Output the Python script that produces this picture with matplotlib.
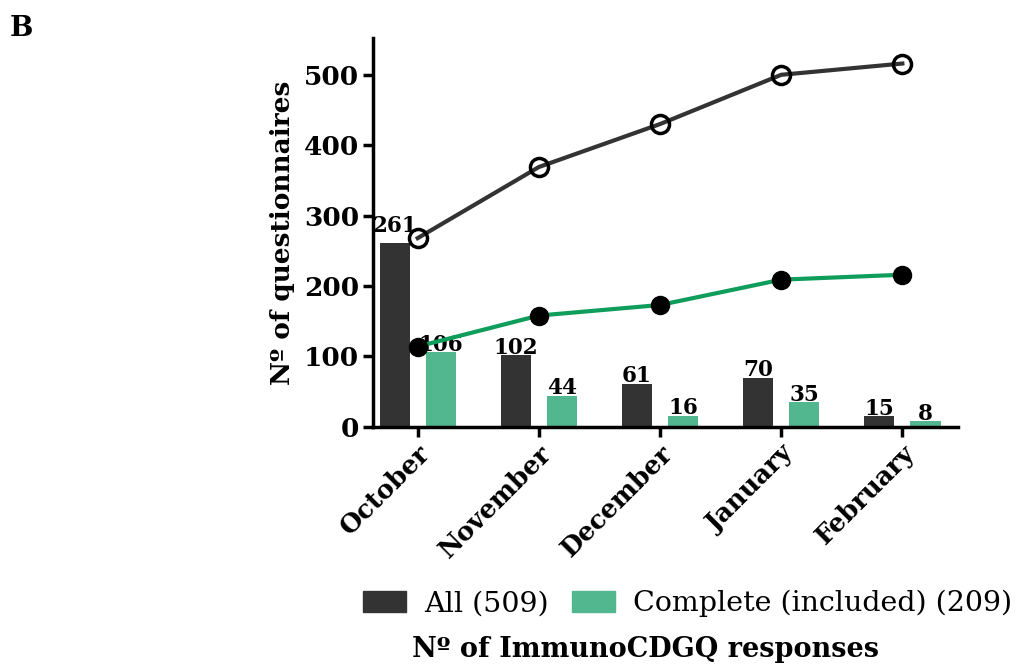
import numpy as np
import matplotlib
matplotlib.use('Agg')
import matplotlib.pyplot as plt
from matplotlib.patches import Patch

months = ['October', 'November', 'December', 'January', 'February']
all_counts = [261, 102, 61, 70, 15]
complete_counts = [106, 44, 16, 35, 8]
# cumulative lines
all_cum = [268, 369, 430, 500, 516]
complete_cum = [114, 158, 173, 209, 216]

# extra lift of the value labels (data units); the 261 one sits higher
all_pad = [16, 2, 2, 2, 2]
complete_pad = [1, 2, 2, 2, 2]

DARK = '#333333'
GREEN_BAR = '#52b68f'
GREEN_LINE = '#0f9d5c'

plt.rcParams['font.family'] = ['DejaVu Serif']

fig = plt.figure(figsize=(10.16, 6.7), dpi=100)
ax = fig.add_axes([0.367, 0.363, 0.576, 0.58])

x = np.arange(len(months))
off = 0.19
w = 0.25
ax.bar(x - off, all_counts, w, color=DARK, zorder=2)
ax.bar(x + off, complete_counts, w, color=GREEN_BAR, zorder=2)

for xi, v, p in zip(x, all_counts, all_pad):
    ax.text(xi - off, v + p, str(v), ha='center', va='baseline',
            fontsize=15.5, fontweight='bold', zorder=5)
for xi, v, p in zip(x, complete_counts, complete_pad):
    ax.text(xi + off, v + p, str(v), ha='center', va='baseline',
            fontsize=15.5, fontweight='bold', zorder=3)

ax.plot(x, all_cum, color=DARK, lw=3, marker='o', ms=13,
        mfc='none', mec='black', mew=2.5, zorder=4)
ax.plot(x, complete_cum, color=GREEN_LINE, lw=3, marker='o', ms=13,
        mfc='black', mec='black', zorder=4)

ax.set_xlim(-0.37, 4.46)
ax.set_ylim(0, 552)
ax.set_yticks(range(0, 501, 100))
ax.set_xticks(x)
ax.set_xticklabels(months, rotation=45, ha='right', rotation_mode='anchor',
                   fontsize=18.5, fontweight='bold')
for lab in ax.get_yticklabels():
    lab.set_fontsize(19)
    lab.set_fontweight('bold')
ax.tick_params(width=2.5, length=7, pad=3)
ax.spines['top'].set_visible(False)
ax.spines['right'].set_visible(False)
ax.spines['left'].set_linewidth(2.5)
ax.spines['bottom'].set_linewidth(2.5)
ax.set_ylabel('Nº of questionnaires', fontsize=19, fontweight='bold', labelpad=6)

handles = [Patch(color=DARK, label='All (509)'),
           Patch(color=GREEN_BAR, label='Complete (included) (209)')]
leg = fig.legend(handles=handles, loc='center', ncol=2, frameon=False,
                 fontsize=20.5, handlelength=1.5, handleheight=0.76,
                 handletextpad=0.65, columnspacing=0.8)
leg.set_bbox_to_anchor((0.677, 0.099), transform=fig.transFigure)

fig.text(0.635, 0.03, 'Nº of ImmunoCDGQ responses', ha='center', va='center',
         fontsize=19.5, fontweight='bold')
fig.text(0.01, 0.957, 'B', fontsize=20, fontweight='bold', va='center')

plt.savefig('out.png', dpi=100)
